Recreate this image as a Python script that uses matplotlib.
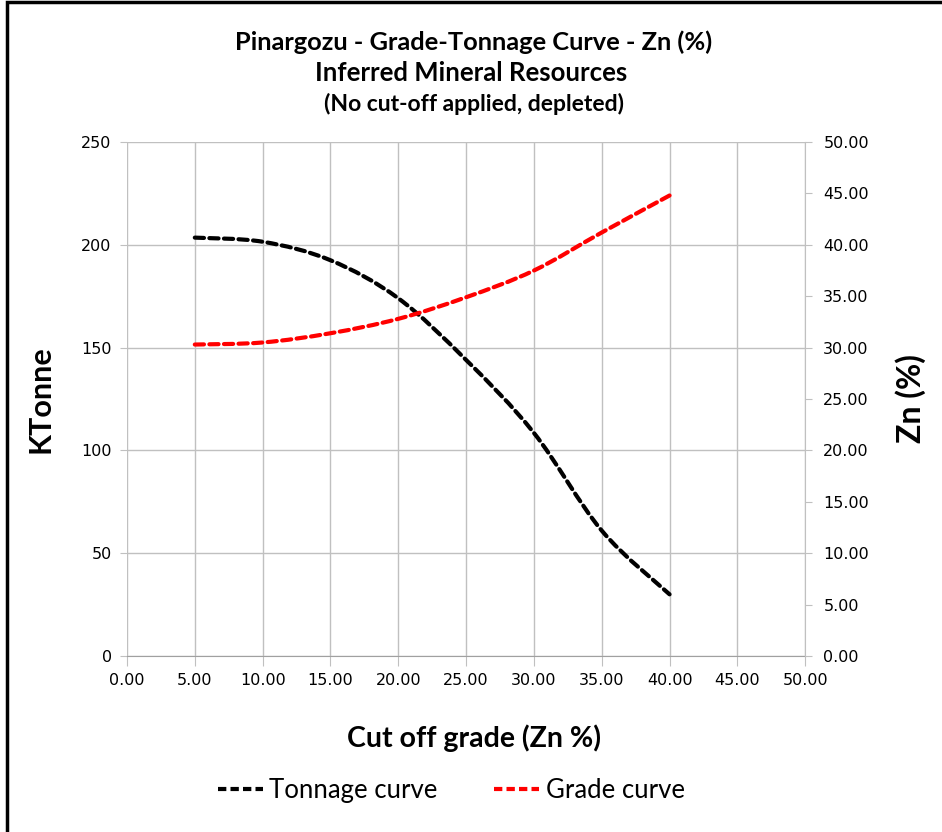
import numpy as np
import matplotlib.pyplot as plt
from matplotlib.path import Path
from matplotlib.patches import PathPatch, Rectangle
from matplotlib.lines import Line2D

# dados
cutoff = [5, 10, 15, 20, 25, 30, 35, 40]
tonnage = [203.5, 201.5, 192.5, 174, 144, 108.5, 61, 30]
grade = [30.3, 30.5, 31.4, 32.8, 34.9, 37.5, 41.2, 44.8]

x_ticks = [0, 5, 10, 15, 20, 25, 30, 35, 40, 45, 50]
left_ticks = [0, 50, 100, 150, 200, 250]
right_ticks = [0, 5, 10, 15, 20, 25, 30, 35, 40, 45, 50]

plt.rcParams['font.family'] = ['Lato', 'DejaVu Sans']


def smooth_path(xs, ys, t=1 / 6):
    # curva suavizada estilo Excel (Bezier por Catmull-Rom)
    xs = np.asarray(xs, float)
    ys = np.asarray(ys, float)
    verts = [(xs[0], ys[0])]
    codes = [Path.MOVETO]
    n = len(xs)
    for i in range(n - 1):
        p0 = i - 1 if i > 0 else i
        p3 = i + 2 if i + 2 < n else i + 1
        c1 = (xs[i] + (xs[i + 1] - xs[p0]) * t, ys[i] + (ys[i + 1] - ys[p0]) * t)
        c2 = (xs[i + 1] - (xs[p3] - xs[i]) * t, ys[i + 1] - (ys[p3] - ys[i]) * t)
        verts += [c1, c2, (xs[i + 1], ys[i + 1])]
        codes += [Path.CURVE4] * 3
    return Path(verts, codes)


fig = plt.figure(figsize=(9.42, 8.32), dpi=100)
ax = fig.add_axes([0.1348, 0.2115, 0.72, 0.6178])
ax2 = ax.twinx()

ax.set_xlim(0, 50)
ax.set_ylim(0, 250)
ax2.set_ylim(0, 50)

tick_font = dict(fontsize=11.5, family='DejaVu Sans')
ax.set_xticks(x_ticks)
ax.set_xticklabels(['%.2f' % v for v in x_ticks], **tick_font)
ax.set_yticks(left_ticks)
ax.set_yticklabels([str(v) for v in left_ticks], **tick_font)
ax2.set_yticks(right_ticks)
ax2.set_yticklabels(['%.2f' % v for v in right_ticks], **tick_font)

ax.grid(True, color='#c0c0c0', lw=1)
ax.set_axisbelow(True)
for a in (ax, ax2):
    for s in a.spines.values():
        s.set_visible(False)
ax2.spines['right'].set_visible(True)
ax2.spines['right'].set_color('#c0c0c0')
ax.spines['bottom'].set_visible(True)
ax.spines['bottom'].set_color('#a0a0a0')
ax.tick_params(axis='x', length=7, color='#c0c0c0', pad=5)
ax.tick_params(axis='y', length=5, color='#c0c0c0', pad=6)
ax2.tick_params(axis='y', length=5, color='#c0c0c0', pad=8)

ax.add_patch(PathPatch(smooth_path(cutoff, tonnage), fill=False, color='black',
                       lw=3, linestyle=(0, (2.2, 1.3)), capstyle='round', zorder=3))
ax2.add_patch(PathPatch(smooth_path(cutoff, grade), fill=False, color='#ff0000',
                        lw=3, linestyle=(0, (2.2, 1.3)), capstyle='round', zorder=3))

ax.set_ylabel('KTonne', fontsize=22, fontweight='bold', labelpad=19)
ax2.set_ylabel('Zn (%)', fontsize=23, fontweight='bold', rotation=90, labelpad=19)
ax.set_xlabel('Cut off grade (Zn %)', fontsize=20.5, fontweight='bold')
ax.xaxis.set_label_coords(0.512, -0.133)

fig.text(0.503, 0.949, 'Pinargozu - Grade-Tonnage Curve - Zn (%)', ha='center', va='center',
         fontsize=18.3, fontweight='bold')
fig.text(0.50, 0.912, 'Inferred Mineral Resources', ha='center', va='center',
         fontsize=18.5, fontweight='bold')
fig.text(0.503, 0.875, '(No cut-off applied, depleted)', ha='center', va='center',
         fontsize=16.5, fontweight='bold')

handles = [Line2D([], [], color='black', lw=3, linestyle=(0, (2, 1))),
           Line2D([], [], color='#ff0000', lw=3, linestyle=(0, (2, 1)))]
fig.legend(handles, ['Tonnage curve', 'Grade curve'], loc='center', bbox_to_anchor=(0.479, 0.05),
           ncol=2, frameon=False, fontsize=18.5, handlelength=1.75, handletextpad=0.25,
           columnspacing=2.2)

fig.add_artist(Rectangle((0.0075, -0.01), 1.1, 1.008, transform=fig.transFigure,
                         fill=False, edgecolor='black', lw=2.5, clip_on=False))

fig.savefig('out.png', dpi=100)
